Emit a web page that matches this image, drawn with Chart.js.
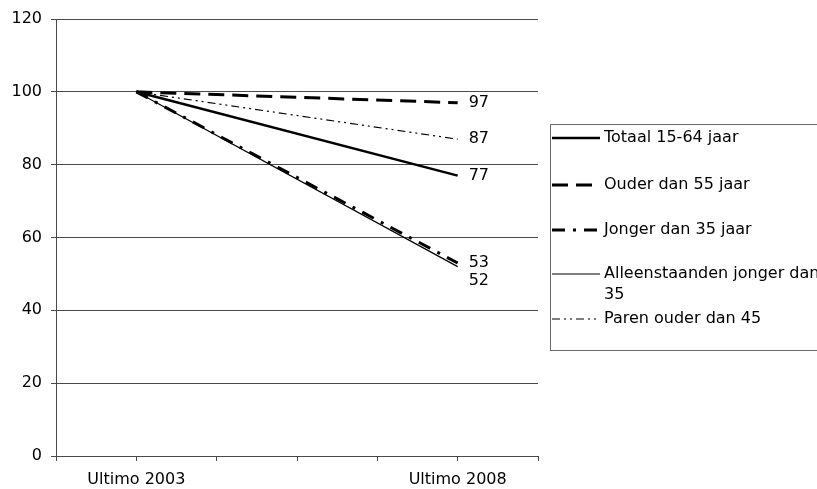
<!DOCTYPE html>
<html>
<head>
<meta charset="utf-8">
<script src="https://cdn.jsdelivr.net/npm/chart.js@4/dist/chart.umd.min.js"></script>
<style>
  html, body { margin: 0; padding: 0; background: #ffffff; }
  #wrap { width: 817px; height: 489px; position: relative; }
</style>
</head>
<body>
<div id="wrap"><canvas id="c" width="817" height="489"></canvas></div>
<script>
// ---- data ----
const axisSlots = ['', 'Ultimo 2003', '', '', '', 'Ultimo 2008', ''];
const categories = ['Ultimo 2003', 'Ultimo 2008'];
const seriesNames = ['Totaal 15-64 jaar', 'Ouder dan 55 jaar', 'Jonger dan 35 jaar', 'Alleenstaanden jonger dan 35', 'Paren ouder dan 45'];
const totaal = [100, 77];
const ouder55 = [100, 97];
const jonger35 = [100, 53];
const alleenstaanden = [100, 52];
const paren45 = [100, 87];
const yTicks = [0, 20, 40, 60, 80, 100, 120];

const FONT = 'DejaVu Sans';
const GRID = '#4a4a4a';

function toSlots(values) {
  const arr = axisSlots.map(() => null);
  categories.forEach((c, i) => { arr[axisSlots.indexOf(c)] = values[i]; });
  return arr;
}

const styles = [
  { w: 2.5, dash: [] },
  { w: 3, dash: [16, 8] },
  { w: 3, dash: [13, 8, 3, 8] },
  { w: 1.2, dash: [] },
  { w: 1.2, dash: [8, 4, 2, 4, 2, 4] }
];
const labelOffsets = [0, 0, 0, 14, 0];
const seriesValues = [totaal, ouder55, jonger35, alleenstaanden, paren45];

const datasets = seriesValues.map((v, i) => ({
  label: seriesNames[i],
  data: toSlots(v),
  borderColor: '#000000',
  backgroundColor: '#000000',
  borderWidth: styles[i].w,
  borderDash: styles[i].dash,
  pointRadius: 0,
  tension: 0,
  spanGaps: true,
  fill: false
}));

const endLabels = {
  id: 'endLabels',
  afterDatasetsDraw(chart) {
    const ctx = chart.ctx;
    ctx.save();
    ctx.font = '16px "' + FONT + '"';
    ctx.fillStyle = '#000';
    ctx.textAlign = 'left';
    ctx.textBaseline = 'middle';
    chart.data.datasets.forEach((ds, i) => {
      const meta = chart.getDatasetMeta(i);
      const lastIdx = axisSlots.indexOf(categories[categories.length - 1]);
      const pt = meta.data[lastIdx];
      const val = seriesValues[i][seriesValues[i].length - 1];
      ctx.fillText(String(val), pt.x + 11, pt.y + labelOffsets[i]);
    });
    ctx.restore();
  }
};

const boxLegend = {
  id: 'boxLegend',
  afterDraw(chart) {
    const ctx = chart.ctx;
    ctx.save();
    const bx = 550.5, by = 124.5, bw = 300, bh = 226;
    ctx.strokeStyle = '#6a6a6a';
    ctx.lineWidth = 1;
    ctx.setLineDash([]);
    ctx.strokeRect(bx, by, bw, bh);
    const rows = [
      { lines: ['Totaal 15-64 jaar'], y: 138 },
      { lines: ['Ouder dan 55 jaar'], y: 185 },
      { lines: ['Jonger dan 35 jaar'], y: 230 },
      { lines: ['Alleenstaanden jonger dan', '35'], y: 274 },
      { lines: ['Paren ouder dan 45'], y: 319 }
    ];
    ctx.font = '16px "' + FONT + '"';
    ctx.fillStyle = '#000';
    ctx.textAlign = 'left';
    ctx.textBaseline = 'middle';
    chart.data.datasets.forEach((ds, i) => {
      const r = rows[i];
      ctx.beginPath();
      ctx.strokeStyle = '#000';
      ctx.lineWidth = ds.borderWidth;
      ctx.setLineDash(ds.borderDash || []);
      ctx.moveTo(552, r.y);
      ctx.lineTo(600, r.y);
      ctx.stroke();
      ctx.setLineDash([]);
      r.lines.forEach((t, k) => ctx.fillText(t, 604, r.y + k * 21));
    });
    ctx.restore();
  }
};

new Chart(document.getElementById('c'), {
  type: 'line',
  data: { labels: axisSlots, datasets },
  plugins: [endLabels, boxLegend],
  options: {
    responsive: false,
    animation: false,
    devicePixelRatio: 1,
    layout: { padding: { left: 0, top: 19, right: 279, bottom: 0 } },
    plugins: { legend: { display: false }, tooltip: { enabled: false } },
    scales: {
      x: {
        type: 'category',
        offset: false,
        afterFit(s) { s.height = 33; },
        grid: { drawOnChartArea: false, drawTicks: true, tickLength: 5, color: GRID },
        border: { display: true, color: GRID, width: 1 },
        ticks: {
          autoSkip: false, maxRotation: 0, padding: 9,
          color: '#000', font: { family: FONT, size: 16 }
        }
      },
      y: {
        min: 0, max: 120,
        afterFit(s) { s.width = 56; },
        afterBuildTicks(s) { s.ticks = yTicks.map(v => ({ value: v })); },
        grid: { drawOnChartArea: true, drawTicks: true, tickLength: 5, color: GRID },
        border: { display: true, color: GRID, width: 1 },
        ticks: { padding: 9, color: '#000', font: { family: FONT, size: 16 } }
      }
    }
  }
});
</script>
</body>
</html>
